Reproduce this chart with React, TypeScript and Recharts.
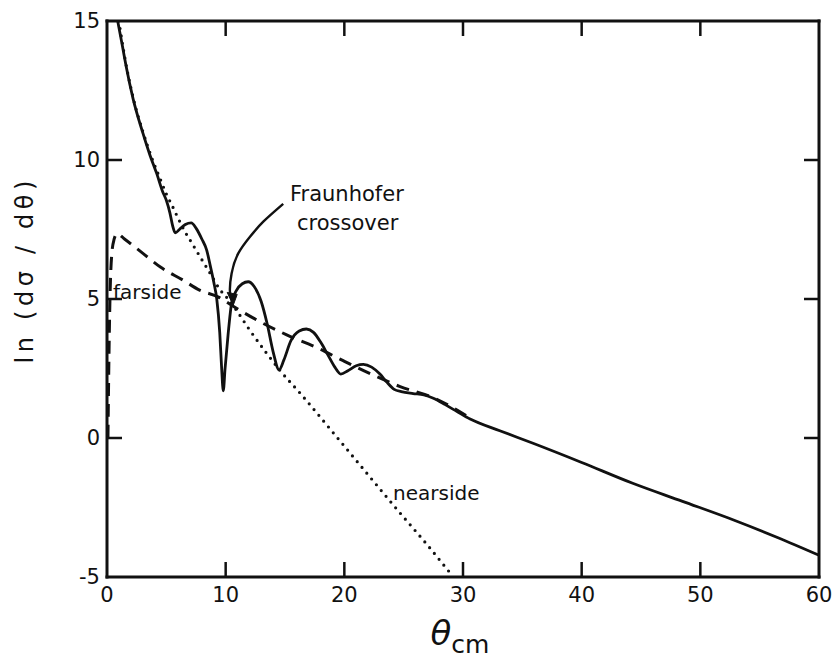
import React from 'react';
import { LineChart, Line, XAxis, YAxis, Label, Customized } from 'recharts';

// Axis ticks
const xTicks = [0, 10, 20, 30, 40, 50, 60];
const yTicks = [-5, 0, 5, 10, 15];
const yTickLabels = ['-5', '0', '5', '10', '15'];

// Full cross section (solid)
const totalTheta = [0.9, 1.3, 1.6, 2.2, 3.0, 3.6, 4.2, 4.7, 5.0, 5.3, 5.55, 5.75, 6.1, 6.6, 7.1, 7.5, 8.0, 8.4, 8.7, 9.0, 9.25, 9.5, 9.65, 9.8, 9.95, 10.2, 10.5, 10.9, 11.4, 11.9, 12.4, 13.0, 13.5, 14.0, 14.5, 14.9, 15.5, 16.2, 16.8, 17.4, 18.0, 18.6, 19.2, 19.7, 20.3, 21.0, 21.6, 22.3, 23.0, 23.6, 24.2, 24.8, 25.8, 26.7, 27.5, 28.5, 29.5, 30.6, 33.1, 35.9, 40, 44.3, 48.5, 52.8, 56.5, 60];
const totalLn = [15.0, 14.1, 13.4, 12.2, 11.0, 10.2, 9.5, 8.85, 8.55, 8.1, 7.6, 7.38, 7.5, 7.68, 7.74, 7.55, 7.15, 6.76, 6.2, 5.6, 5.0, 3.8, 2.6, 1.7, 2.5, 3.7, 4.85, 5.3, 5.55, 5.62, 5.45, 4.9, 4.1, 3.1, 2.45, 2.8, 3.5, 3.85, 3.92, 3.8, 3.45, 3.0, 2.55, 2.3, 2.42, 2.6, 2.65, 2.55, 2.3, 2.0, 1.75, 1.67, 1.6, 1.55, 1.43, 1.2, 0.95, 0.68, 0.26, -0.19, -0.88, -1.63, -2.28, -2.95, -3.58, -4.22];

// Farside component (dashed)
const farTheta = [0.08, 0.15, 0.25, 0.4, 0.6, 0.85, 1.5, 3.0, 4.5, 6.4, 7.8, 9.4, 10.6, 12.9, 15.1, 17.7, 19.9, 22.4, 24.7, 27.5, 30.6];
const farLn = [0.0, 2.5, 5.0, 6.6, 7.15, 7.35, 7.15, 6.65, 6.15, 5.68, 5.32, 5.07, 4.75, 4.18, 3.72, 3.25, 2.78, 2.27, 1.85, 1.45, 0.72];

// Nearside component (dotted)
const nearTheta = [1.0, 1.6, 2.2, 3.0, 3.8, 4.5, 5.0, 5.5, 6.0, 6.6, 7.0, 7.8, 8.7, 9.5, 10.2, 10.9, 12.0, 13.45, 14.6, 16.3, 19.1, 21.9, 24.7, 27.0, 29.0];
const nearLn = [15.0, 13.45, 12.25, 11.05, 10.05, 9.3, 8.78, 8.35, 7.9, 7.4, 7.12, 6.55, 5.92, 5.35, 5.0, 4.6, 3.9, 3.05, 2.42, 1.6, 0.17, -1.27, -2.7, -3.85, -4.9];

// Pointer to the Fraunhofer crossover
const arrowTheta = [14.85, 13.17, 12.05, 11.06, 10.5, 10.36, 10.55];
const arrowLn = [8.42, 7.78, 7.24, 6.64, 5.92, 5.26, 4.95];

const zip = (xs: number[], ys: number[]) => xs.map((x, i) => ({ x, v: ys[i] }));
const totalData = zip(totalTheta, totalLn);
const farData = zip(farTheta, farLn);
const nearData = zip(nearTheta, nearLn);
const arrowData = zip(arrowTheta, arrowLn);

const FONT = '"DejaVu Sans", "Liberation Sans", sans-serif';
const INK = '#111';
const TICK_LEN = 15;

const BottomTick = (p: any) => {
  const v = p.payload.value;
  const edge = v === 0 || v === 60;
  return (
    <g>
      {!edge && <line x1={p.x} x2={p.x} y1={p.y} y2={p.y - TICK_LEN} stroke={INK} strokeWidth={2.5} />}
      <text x={p.x} y={p.y + 18} textAnchor="middle" dominantBaseline="central" fontFamily={FONT} fontSize={21} fill={INK}>
        {v}
      </text>
    </g>
  );
};

const TopTick = (p: any) => {
  const v = p.payload.value;
  if (v === 0 || v === 60) return <g />;
  return <line x1={p.x} x2={p.x} y1={p.y} y2={p.y + TICK_LEN} stroke={INK} strokeWidth={2.5} />;
};

const LeftTick = (p: any) => {
  const v = p.payload.value;
  const edge = v === -5 || v === 15;
  const label = yTickLabels[yTicks.indexOf(v)];
  return (
    <g>
      {!edge && <line x1={p.x} x2={p.x + TICK_LEN} y1={p.y} y2={p.y} stroke={INK} strokeWidth={2.5} />}
      <text x={p.x - 7} y={p.y} textAnchor="end" dominantBaseline="central" fontFamily={FONT} fontSize={21} fill={INK}>
        {label}
      </text>
    </g>
  );
};

const RightTick = (p: any) => {
  const v = p.payload.value;
  if (v === -5 || v === 15) return <g />;
  return <line x1={p.x} x2={p.x - TICK_LEN} y1={p.y} y2={p.y} stroke={INK} strokeWidth={2.5} />;
};

const ArrowHead = (p: any) => {
  if (p.index !== arrowData.length - 1) return <g key={p.key} />;
  const { cx, cy } = p;
  return (
    <path key={p.key} d={`M ${cx - 5} ${cy - 8} L ${cx + 5} ${cy - 6} L ${cx + 1} ${cy + 5} Z`} fill={INK} stroke={INK} strokeWidth={1} />
  );
};

const YTitle = (props: any) => {
  const vb = props.viewBox;
  const cx = vb.x + 25;
  const cy = 272;
  return (
    <text
      x={cx}
      y={cy}
      transform={`rotate(-90 ${cx} ${cy})`}
      textAnchor="middle"
      dominantBaseline="central"
      fontFamily={FONT}
      fontSize={24}
      fill={INK}
      textLength={183}
      lengthAdjust="spacing"
    >
      ln (dσ / dθ)
    </text>
  );
};

const XTitle = (props: any) => {
  const vb = props.viewBox;
  const cx = vb.x + vb.width / 2 - 3;
  return (
    <text x={cx} y={645} textAnchor="middle" fontFamily={FONT} fill={INK}>
      <tspan fontSize={34} fontStyle="italic">θ</tspan>
      <tspan fontSize={25} dy={8}>cm</tspan>
    </text>
  );
};

const Notes = () => (
  <g fontFamily={FONT} fill={INK}>
    <text x={290} y={201} fontSize={21}>Fraunhofer</text>
    <text x={297} y={230} fontSize={21}>crossover</text>
    <text x={113} y={299} fontSize={20}>farside</text>
    <text x={393} y={500} fontSize={20}>nearside</text>
  </g>
);

const axisStroke = { stroke: INK, strokeWidth: 3, strokeLinecap: 'square' as const };

export default function App() {
  return (
    <div style={{ position: 'absolute', left: 0, top: 0, background: '#fff' }}>
      <LineChart width={837} height={658} margin={{ top: 0, right: 0, bottom: 0, left: 0 }}>
        <XAxis
          xAxisId={0}
          dataKey="x"
          type="number"
          domain={[0, 60]}
          ticks={xTicks}
          interval={0}
          allowDataOverflow
          height={81}
          tickSize={0}
          tickMargin={0}
          axisLine={axisStroke}
          tickLine={false}
          tick={BottomTick}
        >
          <Label content={XTitle} />
        </XAxis>
        <XAxis
          xAxisId="top"
          orientation="top"
          dataKey="x"
          type="number"
          domain={[0, 60]}
          ticks={xTicks}
          interval={0}
          allowDataOverflow
          height={21}
          tickSize={0}
          tickMargin={0}
          axisLine={axisStroke}
          tickLine={false}
          tick={TopTick}
        />
        <YAxis
          yAxisId={0}
          type="number"
          domain={[-5, 15]}
          ticks={yTicks}
          interval={0}
          allowDataOverflow
          width={107}
          tickSize={0}
          tickMargin={0}
          axisLine={axisStroke}
          tickLine={false}
          tick={LeftTick}
        >
          <Label content={YTitle} />
        </YAxis>
        <YAxis
          yAxisId="right"
          orientation="right"
          type="number"
          domain={[-5, 15]}
          ticks={yTicks}
          interval={0}
          allowDataOverflow
          width={18}
          tickSize={0}
          tickMargin={0}
          axisLine={axisStroke}
          tickLine={false}
          tick={RightTick}
        />
        <Line data={nearData} dataKey="v" type="monotone" stroke={INK} strokeWidth={3.2} strokeDasharray="0 7.5" strokeLinecap="round" dot={false} isAnimationActive={false} />
        <Line data={farData} dataKey="v" type="monotone" stroke={INK} strokeWidth={3} strokeDasharray="13 8" dot={false} isAnimationActive={false} />
        <Line data={totalData} dataKey="v" type="monotone" stroke={INK} strokeWidth={2.8} dot={false} isAnimationActive={false} />
        <Line data={arrowData} dataKey="v" type="natural" stroke={INK} strokeWidth={2.4} dot={ArrowHead} isAnimationActive={false} />
        <Customized component={Notes} />
      </LineChart>
    </div>
  );
}
